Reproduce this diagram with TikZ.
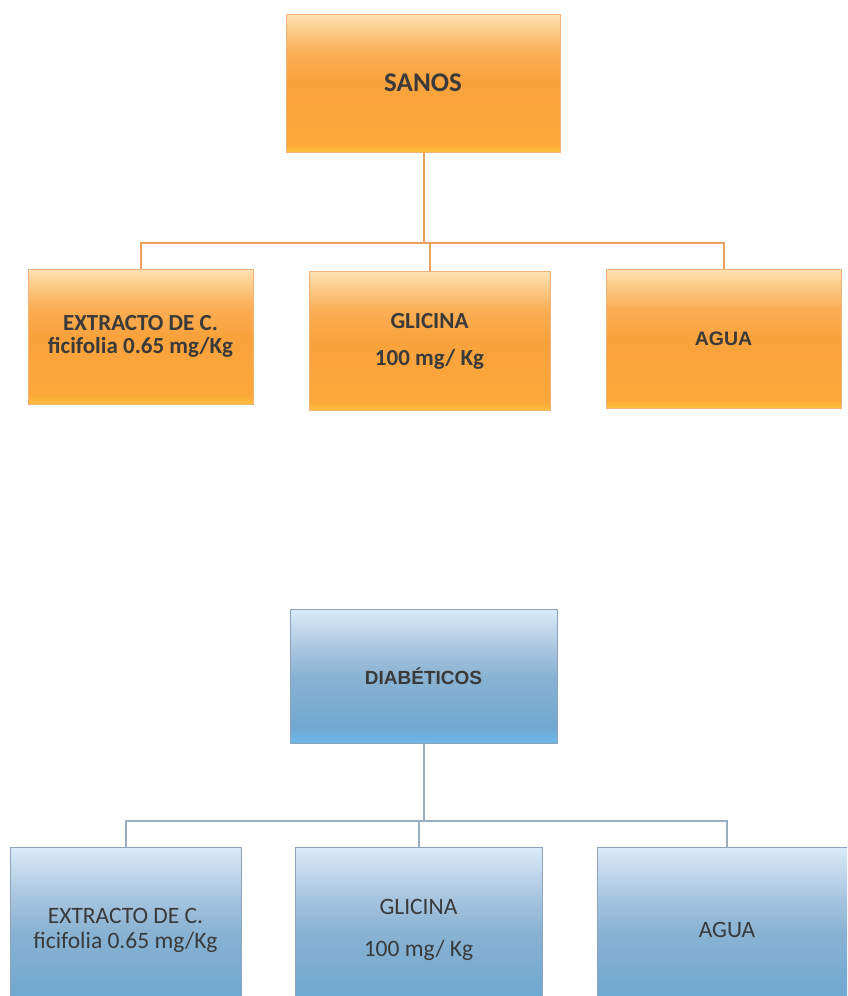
\documentclass[tikz,border=0pt]{standalone}
\usepackage{fontspec}
\newfontfamily\carlito{Carlito}
\newfontfamily\arialf{Liberation Sans}
\definecolor{oB}{HTML}{FFC03A}
\definecolor{oB2}{HTML}{FCA83A}
\definecolor{oM}{HTML}{F9A23C}
\definecolor{oM2}{HTML}{FAAE55}
\definecolor{oL}{HTML}{FCCB88}
\definecolor{oT}{HTML}{FEE2B4}
\definecolor{oEdge}{HTML}{F2B27A}
\definecolor{oLine}{HTML}{EBA15E}
\definecolor{bB}{HTML}{6DB8EB}
\definecolor{bB2}{HTML}{70A8D1}
\definecolor{bM}{HTML}{8AB3D3}
\definecolor{bM2}{HTML}{A8C5DF}
\definecolor{bT}{HTML}{DAEAFA}
\definecolor{bEdge}{HTML}{8EA3BB}
\definecolor{bLine}{HTML}{9AAEC2}
\definecolor{txt}{HTML}{3A3A3A}
\pgfdeclareverticalshading{orangeSh}{100bp}{color(0bp)=(oB); color(25bp)=(oB); color(28bp)=(oB2); color(50bp)=(oM); color(61bp)=(oM2); color(69bp)=(oL); color(75bp)=(oT); color(100bp)=(oT)}
\pgfdeclareverticalshading{blueSh}{100bp}{color(0bp)=(bB); color(25bp)=(bB); color(31bp)=(bB2); color(50bp)=(bM); color(60bp)=(bM2); color(75bp)=(bT); color(100bp)=(bT)}
\tikzset{
  obox/.style={draw=oEdge, line width=1pt, shading=orangeSh, inner sep=0pt, outer sep=0pt, text=txt, align=center},
  bbox/.style={draw=bEdge, line width=1pt, shading=blueSh, inner sep=0pt, outer sep=0pt, text=txt, align=center},
  oconn/.style={draw=oLine, line width=2pt},
  bconn/.style={draw=bLine, line width=2pt},
  cbold/.style={font=\carlito\bfseries\fontsize{23}{23}\selectfont},
  creg/.style={font=\carlito\fontsize{23.5}{25}\selectfont},
}
\begin{document}
\begin{tikzpicture}[x=1pt,y=-1pt]
\useasboundingbox (0,0) rectangle (847,996);
\clip (0,0) rectangle (847,996);
% ---------- SANOS ----------
\node[obox, minimum width=274pt, minimum height=138pt,
      font=\carlito\bfseries\fontsize{27}{30}\selectfont] (sanos) at (423,83) {SANOS};
\node[obox, cbold, minimum width=225pt, minimum height=135pt] (s1) at (140.5,336.5)
  {EXTRACTO DE C.\\ficifolia 0.65 mg/Kg};
\node[obox, cbold, minimum width=241pt, minimum height=139pt] (s2) at (429.5,341)
  {GLICINA\\[14pt]100 mg/ Kg};
\node[obox, minimum width=235pt, minimum height=139pt,
      font=\arialf\bfseries\fontsize{19.5}{22}\selectfont] (s3) at (723.5,338.5) {AGUA};
\coordinate (sbar) at (424,243);
\draw[oconn] (sanos.south -| sbar) -- (sbar);
\draw[oconn] (s1.north) |- (sbar) -| (s3.north);
\draw[oconn] (s2.north) -- (s2.north |- sbar);
% ---------- DIABETICOS ----------
\node[bbox, minimum width=267pt, minimum height=134pt,
      font=\arialf\bfseries\fontsize{19}{22}\selectfont] (diab) at (423.5,676) {DIABÉTICOS};
\node[bbox, creg, minimum width=231pt, minimum height=166pt] (d1) at (125.5,930)
  {EXTRACTO DE C.\\ficifolia 0.65 mg/Kg};
\node[bbox, creg, minimum width=247pt, minimum height=166pt] (d2) at (418.5,930)
  {GLICINA\\[17pt]100 mg/ Kg};
\node[bbox, creg, minimum width=260pt, minimum height=166pt] (d3) at (727,930)
  {AGUA};
\coordinate (dbar) at (424,821);
\draw[bconn] (diab.south -| dbar) -- (dbar);
\draw[bconn] (d1.north) |- (dbar) -| (d3.north);
\draw[bconn] (d2.north) -- (d2.north |- dbar);
\end{tikzpicture}
\end{document}
